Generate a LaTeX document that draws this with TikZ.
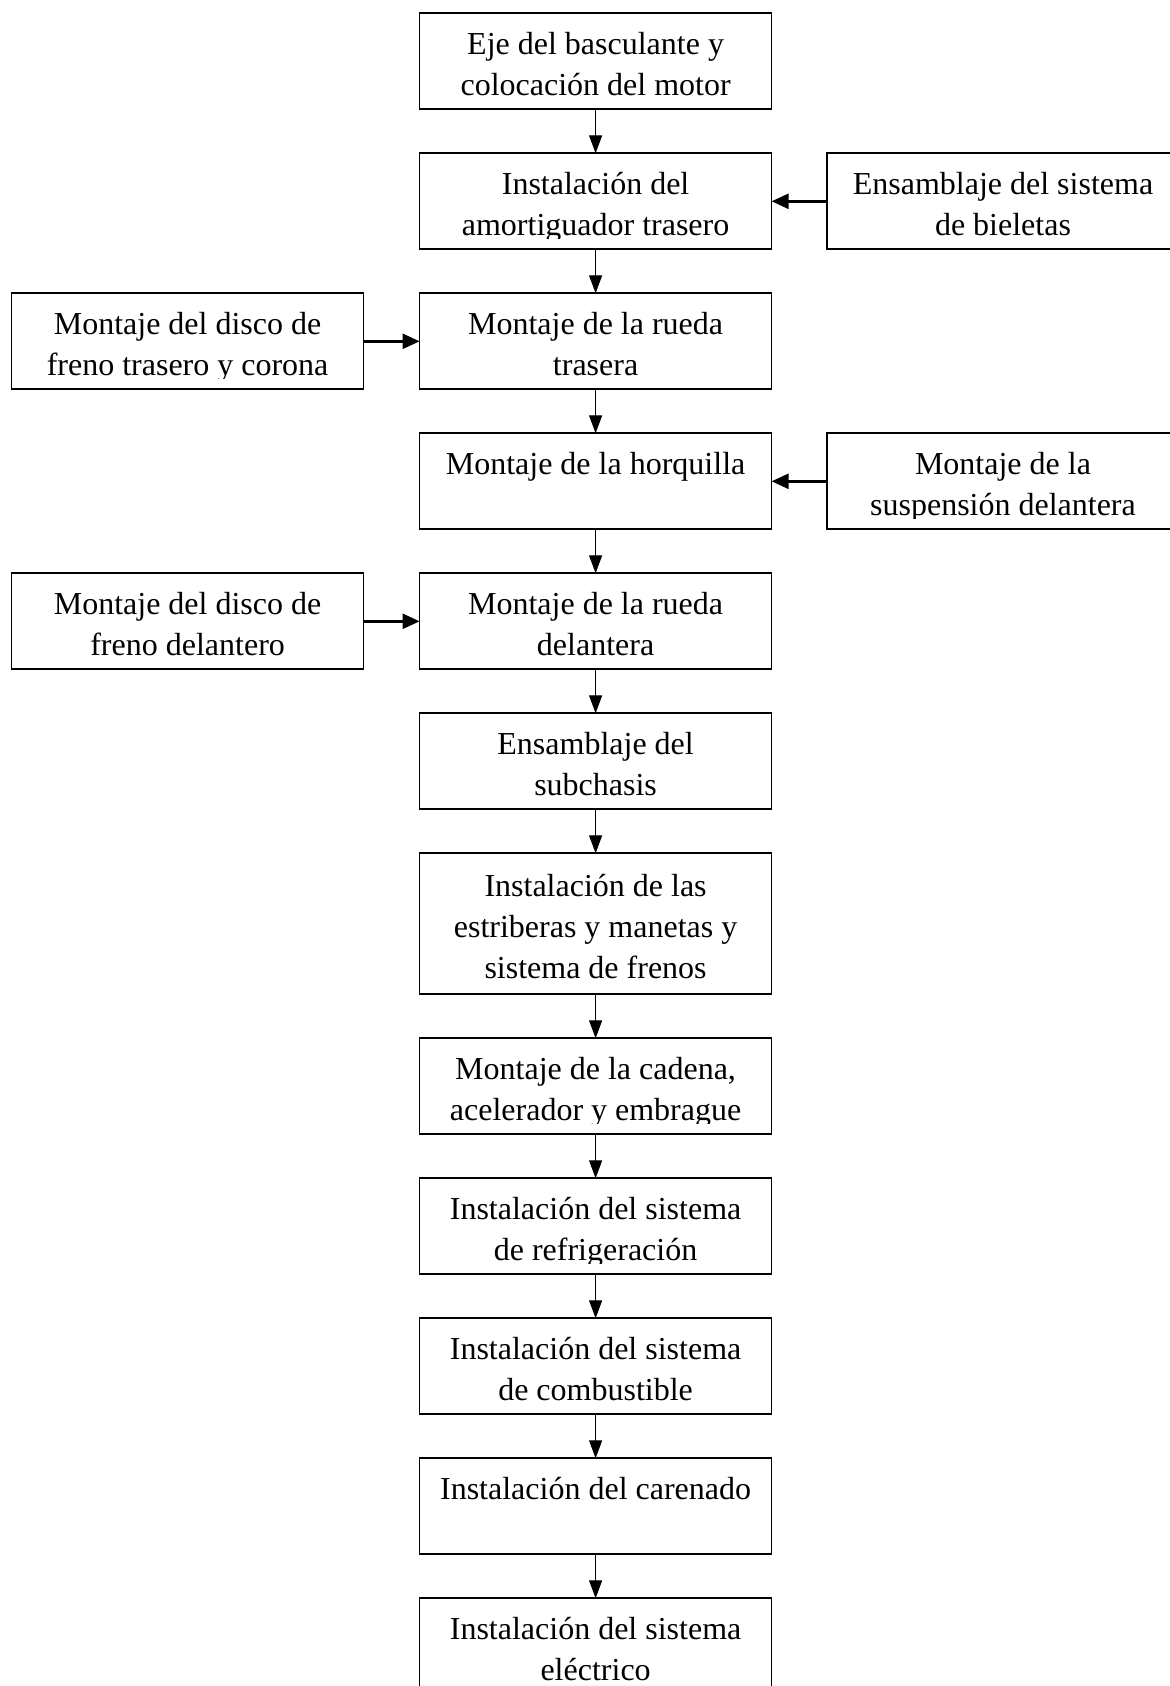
\documentclass[tikz,border=0pt]{standalone}
\usepackage{fontspec}
\setmainfont{Liberation Serif}
\usetikzlibrary{arrows.meta,positioning}
\newcommand{\topstrut}{\rule{0pt}{20.5pt}}
\newcommand{\botstrut}{\rule[-7pt]{0pt}{7pt}}

\begin{document}
\begin{tikzpicture}[font=\fontsize{16}{20.5}\selectfont, node distance=22pt,
  stepbox/.style={draw, line width=0.85pt, align=flush center, text width=176pt, inner sep=0pt, outer sep=0pt,
    minimum width=176pt, minimum height=48pt,
    execute at begin node=\topstrut, execute at end node=\botstrut},
  down/.style={-{Triangle[length=9pt, width=6.5pt]}, line width=0.65pt},
  side/.style={-{Triangle[length=8.5pt, width=7.5pt]}, line width=1.2pt}]
\useasboundingbox (0,0) rectangle (585pt,-843pt);
% main column
\node[stepbox, anchor=north] (eje) at (297.8pt,-6.65pt) {Eje del basculante y\\colocación del motor};
\node[stepbox, below=of eje] (amort) {Instalación del\\amortiguador trasero};
\node[stepbox, below=of amort] (rtras) {Montaje de la rueda\\trasera};
\node[stepbox, below=of rtras] (horq) {Montaje de la horquilla\\};
\node[stepbox, below=of horq] (rdel) {Montaje de la rueda\\delantera};
\node[stepbox, below=of rdel] (subch) {Ensamblaje del\\subchasis};
\node[stepbox, below=of subch, minimum height=70.5pt] (estrib) {Instalación de las\\estriberas y manetas y\\sistema de frenos};
\node[stepbox, below=of estrib] (cadena) {Montaje de la cadena,\\acelerador y embrague};
\node[stepbox, below=of cadena] (refrig) {Instalación del sistema\\de refrigeración};
\node[stepbox, below=of refrig] (comb) {Instalación del sistema\\de combustible};
\node[stepbox, below=of comb] (caren) {Instalación del carenado\\};
\node[stepbox, below=of caren] (elec) {Instalación del sistema\\eléctrico};
% side boxes
\node[stepbox, right=27.7pt of amort] (biel) {Ensamblaje del sistema\\de bieletas};
\node[stepbox, left=28pt of rtras] (dtras) {Montaje del disco de\\freno trasero y corona};
\node[stepbox, right=27.7pt of horq] (susp) {Montaje de la\\suspensión delantera};
\node[stepbox, left=28pt of rdel] (ddel) {Montaje del disco de\\freno delantero};
% text boxes clip the descenders near the bottom edge
\foreach \n in {eje,amort,rtras,horq,rdel,subch,estrib,cadena,refrig,comb,caren,elec,biel,dtras,susp,ddel}
  \fill[white] ([shift={(0.6pt,1pt)}]\n.south west) rectangle ([shift={(-0.6pt,5pt)}]\n.south east);
% connectors
\foreach \a/\b in {eje/amort,amort/rtras,rtras/horq,horq/rdel,rdel/subch,subch/estrib,estrib/cadena,cadena/refrig,refrig/comb,comb/caren,caren/elec}
  \draw[down] (\a) -- (\b);
\draw[side] (biel) -- (amort);
\draw[side] (dtras) -- (rtras);
\draw[side] (susp) -- (horq);
\draw[side] (ddel) -- (rdel);
\end{tikzpicture}
\end{document}
